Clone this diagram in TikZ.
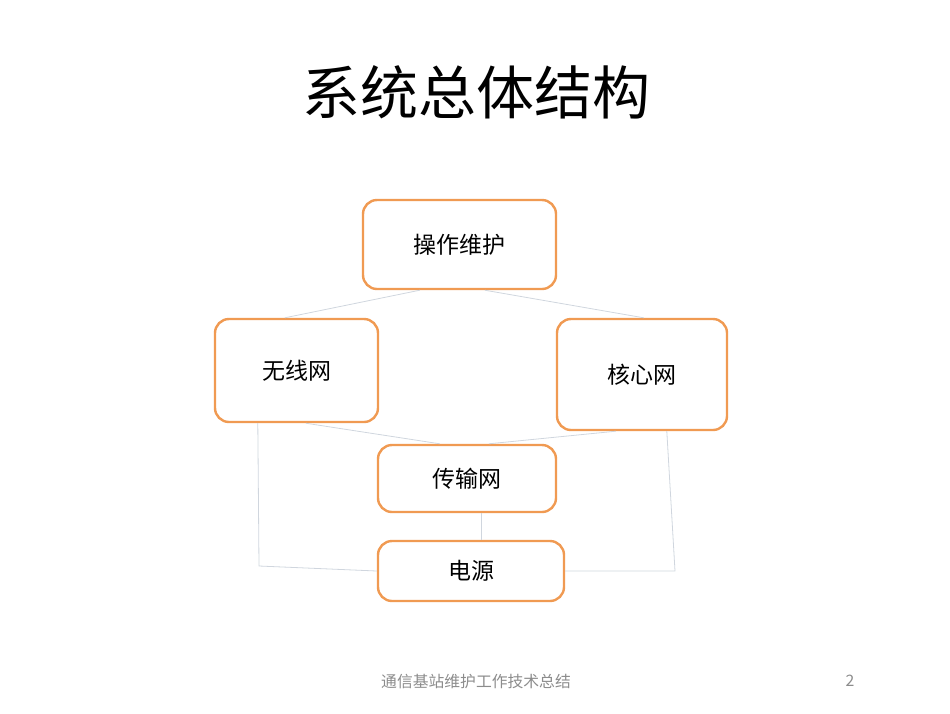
\documentclass[tikz,border=0pt]{standalone}
\usepackage{fontspec}
\newfontfamily\cjk{Noto Sans CJK SC}
\definecolor{boxorange}{RGB}{240,154,82}
\definecolor{linkgrey}{RGB}{208,214,222}
\definecolor{footgrey}{RGB}{140,140,140}
\begin{document}
\begin{tikzpicture}[x=1pt,y=-1pt,
  box/.style={draw=boxorange,line width=2.4pt,rounded corners=14pt,fill=white,
    inner sep=0pt,font=\cjk\fontsize{23}{27}\selectfont},
  link/.style={draw=linkgrey,line width=0.8pt}]
\useasboundingbox (0,0) rectangle (950,713);
\node[font=\cjk\fontsize{58}{62}\selectfont] (title) at (476,92) {系统总体结构};
\node[box,minimum width=193pt,minimum height=89pt] (op) at (459.5,244.5) {操作维护};
\node[box,minimum width=163pt,minimum height=103pt] (wx) at (296.5,370.5) {无线网};
\node[box,minimum width=170pt,minimum height=111pt] (hx) at (642,374.5) {核心网};
\node[box,minimum width=178pt,minimum height=67pt] (cs) at (467,478.5) {传输网};
\node[box,minimum width=186pt,minimum height=60pt] (dy) at (471,571) {电源};
\coordinate (lc) at (259,566);
\coordinate (rc) at (675,571);
\draw[link] ([xshift=58pt]op.south west) -- ([xshift=71pt]wx.north west);
\draw[link] ([xshift=123pt]op.south west) -- ([xshift=88pt]hx.north west);
\draw[link] ([xshift=92pt]wx.south west) -- ([xshift=63pt]cs.north west);
\draw[link] ([xshift=60pt]hx.south west) -- ([xshift=112pt]cs.north west);
\draw[link] ([xshift=105pt]cs.south west) -- ([xshift=105pt]dy.north west);
\draw[link] ([xshift=44pt]wx.south west) -- (lc) -- (dy.west);
\draw[link] ([xshift=111pt]hx.south west) -- (rc) -- (dy.east);
\node[font=\cjk\fontsize{15.8}{18}\selectfont,text=footgrey] (foot) at (476,681) {通信基站维护工作技术总结};
\node[font=\cjk\fontsize{15.8}{18}\selectfont,text=footgrey] (pg) at (850,681) {2};
\end{tikzpicture}
\end{document}
